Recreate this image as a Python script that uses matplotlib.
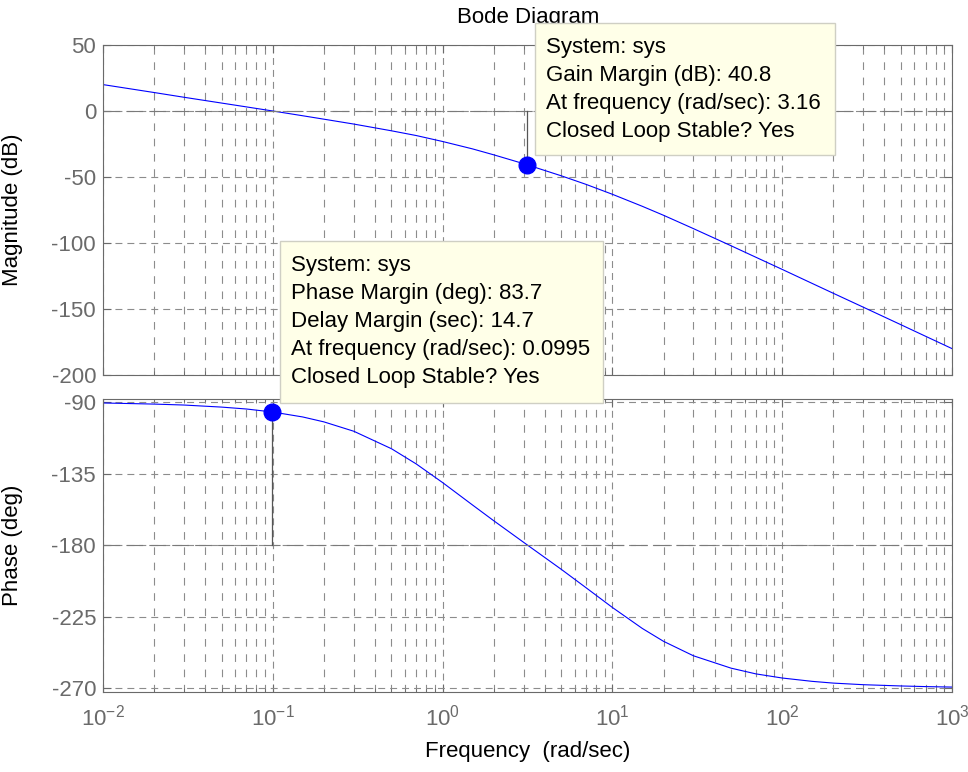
import matplotlib
matplotlib.use('Agg')
import matplotlib.pyplot as plt
from matplotlib.patches import Rectangle
from matplotlib.ticker import LogLocator, NullFormatter

# 频率点 (rad/sec) 及读出的幅值 (dB) 和相位 (deg)
freq = [0.01, 0.02, 0.03, 0.05, 0.07, 0.1, 0.15, 0.2, 0.3, 0.5, 0.7, 1, 1.5, 2, 3,
        5, 7, 10, 15, 20, 30, 50, 70, 100, 150, 200, 300, 500, 700, 1000]
mag_db = [20.0, 14.0, 10.4, 6.0, 3.1, 0.0, -3.6, -6.2, -9.9, -15.0, -18.6, -23.1, -28.7, -33.2, -39.9,
          -49.1, -55.6, -63.1, -72.2, -79.0, -89.1, -102.1, -110.8, -120.0, -130.6, -138.1, -148.6, -161.9, -170.7, -180.0]
phase_deg = [-90.6, -91.3, -91.9, -93.2, -94.4, -96.3, -99.4, -102.5, -108.4, -119.4, -129.0, -140.7, -154.8, -164.7, -178.3,
             -195.3, -206.9, -219.3, -232.5, -240.6, -249.7, -257.5, -261.1, -263.7, -265.8, -266.9, -267.9, -268.7, -269.1, -269.4]

# 裕度
gm_db = 40.8
gm_freq = 3.16
pm_deg = 83.7
delay_margin = 14.7
pm_freq = 0.0995

mag_ticks = [-200, -150, -100, -50, 0, 50]
phase_ticks = [-270, -225, -180, -135, -90]

plt.rcParams['font.family'] = ['Liberation Sans', 'DejaVu Sans']
plt.rcParams['font.size'] = 16
plt.rcParams['axes.unicode_minus'] = False
plt.rcParams['lines.scale_dashes'] = False

W, H = 968, 772
fig = plt.figure(figsize=(W / 100, H / 100), dpi=100)
ax1 = fig.add_axes([103 / W, 1 - 375 / H, 849 / W, 330 / H])
ax2 = fig.add_axes([103 / W, 1 - 692 / H, 849 / W, 293 / H])

gray = '#6a6a6a'
for ax in (ax1, ax2):
    ax.set_xscale('log')
    ax.set_xlim(1e-2, 1e3)
    ax.xaxis.set_major_locator(LogLocator(base=10, numticks=10))
    ax.xaxis.set_minor_locator(LogLocator(base=10, subs=range(2, 10), numticks=20))
    ax.xaxis.set_minor_formatter(NullFormatter())
    ax.grid(True, which='major', color='#8c8c8c', linestyle=(0, (5, 3.6)), linewidth=0.8)
    ax.grid(True, which='minor', axis='x', color='#8c8c8c', linestyle=(0, (5.5, 5.5)), linewidth=0.8)
    ax.tick_params(which='both', direction='in', top=True, right=True, colors=gray, labelsize=16)
    ax.tick_params(which='major', length=6, pad=5)
    ax.tick_params(which='minor', length=3)
    ax.tick_params(axis='x', pad=9)
    for sp in ax.spines.values():
        sp.set_color(gray)

# 幅值图
ax1.plot(freq, mag_db, color='#0000ff', linewidth=0.8)
ax1.axhline(0, color='#7a7a7a', linestyle=(0, (12, 4.5)), linewidth=0.8)
ax1.plot([gm_freq, gm_freq], [0, -gm_db], color='#555555', linewidth=0.9)
ax1.plot([gm_freq], [-gm_db], 'o', color='#0000ff', markersize=12)
ax1.set_ylim(-200, 50)
ax1.set_yticks(mag_ticks)
ax1.tick_params(axis='x', labelbottom=False)
ax1.set_ylabel('Magnitude (dB)')
ax1.yaxis.set_label_coords(-80 / 849, 0.5)

# 相位图
ax2.plot(freq, phase_deg, color='#0000ff', linewidth=0.8)
ax2.axhline(-180, color='#7a7a7a', linestyle=(0, (12, 4.5)), linewidth=0.8)
ax2.plot([pm_freq, pm_freq], [-180, -180 + pm_deg], color='#555555', linewidth=0.9)
ax2.plot([pm_freq], [-180 + pm_deg], 'o', color='#0000ff', markersize=12)
ax2.set_ylim(-272.5, -88.1)
ax2.set_yticks(phase_ticks)
ax2.set_ylabel('Phase (deg)')
ax2.yaxis.set_label_coords(-80 / 849, 0.5)
ax2.set_xlabel('Frequency  (rad/sec)')
ax2.xaxis.set_label_coords(0.5, -49 / 293)

fig.text(528 / W, 1 - 17 / H, 'Bode Diagram', ha='center', va='center', fontsize=16, zorder=0.5)


def tip(x0, y0, w, h, lines):
    fig.add_artist(Rectangle((x0 / W, 1 - (y0 + h) / H), w / W, h / H, transform=fig.transFigure,
                             facecolor='#ffffe8', edgecolor='#cfcfc4', linewidth=1, zorder=5))
    for i, s in enumerate(lines):
        fig.text((x0 + 11) / W, 1 - (y0 + 30 + 28 * i) / H, s, va='baseline', fontsize=16, zorder=6)


tip(535, 23, 300, 132, ['System: sys',
                        f'Gain Margin (dB): {gm_db}',
                        f'At frequency (rad/sec): {gm_freq}',
                        'Closed Loop Stable? Yes'])
tip(280, 241, 323, 162, ['System: sys',
                         f'Phase Margin (deg): {pm_deg}',
                         f'Delay Margin (sec): {delay_margin}',
                         f'At frequency (rad/sec): {pm_freq}',
                         'Closed Loop Stable? Yes'])

plt.savefig('out.png', dpi=100)
